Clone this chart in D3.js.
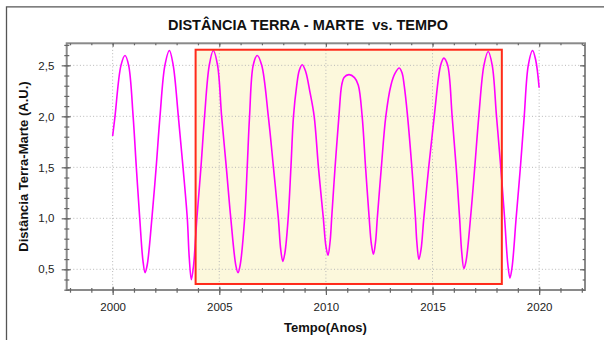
<!DOCTYPE html>
<html>
<head>
<meta charset="utf-8">
<script src="https://cdn.jsdelivr.net/npm/d3@7"></script>
<style>
  html, body { margin: 0; padding: 0; background: #fff; }
  svg { display: block; font-family: "Liberation Sans", Arial, sans-serif; }
</style>
</head>
<body>
<svg id="chart" width="604" height="340"></svg>
<script>
// Earth–Mars distance (astronomical units) sampled through 2000–2020
const years = [
  2000.00, 2000.11, 2000.39, 2000.58, 2000.75, 2000.96, 2001.11, 2001.27, 2001.42, 2001.52,
  2001.62, 2001.84, 2002.04, 2002.22, 2002.45, 2002.66, 2002.84, 2003.08, 2003.30, 2003.50,
  2003.59, 2003.69, 2003.79, 2003.95, 2004.14, 2004.31, 2004.53, 2004.72, 2004.92, 2005.11,
  2005.33, 2005.54, 2005.78, 2005.88, 2005.98, 2006.19, 2006.31, 2006.42, 2006.59, 2006.78,
  2006.99, 2007.30, 2007.54, 2007.77, 2007.88, 2007.98, 2008.08, 2008.23, 2008.36, 2008.48,
  2008.63, 2008.75, 2008.89, 2009.05, 2009.25, 2009.45, 2009.65, 2009.88, 2010.00, 2010.10,
  2010.20, 2010.27, 2010.43, 2010.61, 2010.74, 2010.85, 2011.08, 2011.34, 2011.52, 2011.70,
  2011.86, 2012.03, 2012.13, 2012.23, 2012.33, 2012.41, 2012.60, 2012.81, 2013.05, 2013.24,
  2013.44, 2013.58, 2013.67, 2013.83, 2014.03, 2014.20, 2014.26, 2014.36, 2014.46, 2014.59,
  2014.82, 2015.08, 2015.38, 2015.53, 2015.71, 2015.92, 2016.11, 2016.27, 2016.37, 2016.47,
  2016.57, 2016.78, 2016.98, 2017.17, 2017.41, 2017.61, 2017.80, 2018.00, 2018.20, 2018.38,
  2018.53, 2018.63, 2018.73, 2018.92, 2019.12, 2019.30, 2019.49, 2019.69, 2019.84, 2020.00
];
const distances = [
  1.807, 2.00, 2.50, 2.597, 2.50, 2.00, 1.50, 1.00, 0.586, 0.467,
  0.542, 1.00, 1.50, 2.00, 2.50, 2.646, 2.50, 2.00, 1.50, 1.00,
  0.62, 0.399, 0.53, 1.00, 1.50, 2.00, 2.50, 2.646, 2.50, 2.00,
  1.50, 1.00, 0.534, 0.467, 0.542, 1.00, 1.50, 2.00, 2.50, 2.597,
  2.50, 2.00, 1.50, 1.00, 0.697, 0.578, 0.664, 1.00, 1.50, 2.00,
  2.30, 2.45, 2.506, 2.44, 2.24, 2.00, 1.50, 1.00, 0.727, 0.637,
  0.78, 1.00, 1.50, 2.00, 2.305, 2.38, 2.409, 2.38, 2.305, 2.00,
  1.50, 1.00, 0.751, 0.647, 0.773, 1.00, 1.50, 2.00, 2.305, 2.42,
  2.474, 2.42, 2.305, 2.00, 1.50, 1.00, 0.78, 0.598, 0.692, 1.00,
  1.50, 2.00, 2.50, 2.571, 2.50, 2.00, 1.50, 1.00, 0.666, 0.507,
  0.578, 1.00, 1.50, 2.00, 2.50, 2.636, 2.50, 2.00, 1.50, 1.00,
  0.552, 0.415, 0.52, 1.00, 1.50, 2.00, 2.50, 2.646, 2.55, 2.28
];

// Axis ticks
const xMajorTicks = [2000, 2005, 2010, 2015, 2020];
const xMinorTicks = d3.range(1998, 2023);
const yMajorTicks = [0.5, 1.0, 1.5, 2.0, 2.5];
const yMinorTicks = d3.range(3, 28).map(v => v / 10);

// Highlighted interval (years) and its distance span
const bandYears = [2003.89, 2018.25];
const bandDistance = [0.356, 2.653];

const titleText = "DISTÂNCIA TERRA - MARTE  vs. TEMPO";
const xLabelText = "Tempo(Anos)";
const yLabelText = "Distância Terra-Marte (A.U.)";

const svg = d3.select("#chart");
const W = 604, H = 340;
const plot = { left: 66.7, right: 585, top: 43.3, bottom: 290 };

const x = d3.scaleLinear().domain([1997.845, 2022.15]).range([plot.left, plot.right]);
const y = d3.scaleLinear().domain([0.297, 2.716]).range([plot.bottom, plot.top]);

svg.append("rect").attr("width", W).attr("height", H).attr("fill", "#fff");

// panel border (left and top edges)
svg.append("path")
  .attr("d", `M6.5,${H} V6.8 H${W}`)
  .attr("fill", "none").attr("stroke", "#555").attr("stroke-width", 1.3);

// highlight band fill
svg.append("rect")
  .attr("x", x(bandYears[0])).attr("y", y(bandDistance[1]))
  .attr("width", x(bandYears[1]) - x(bandYears[0]))
  .attr("height", y(bandDistance[0]) - y(bandDistance[1]))
  .attr("fill", "#fcf8dc");

// dotted grid
const grid = svg.append("g").attr("stroke", "#b8b8b8").attr("stroke-width", 1)
  .attr("stroke-dasharray", "1,2.3");
grid.selectAll("line.gx").data(xMajorTicks).join("line")
  .attr("x1", d => x(d)).attr("x2", d => x(d))
  .attr("y1", plot.top).attr("y2", plot.bottom);
grid.selectAll("line.gy").data(yMajorTicks).join("line")
  .attr("x1", plot.left).attr("x2", plot.right)
  .attr("y1", d => y(d)).attr("y2", d => y(d));

// distance curve
const series = years.map((t, i) => [t, distances[i]]);
svg.append("path")
  .datum(series)
  .attr("fill", "none")
  .attr("stroke", "#ff00ff")
  .attr("stroke-width", 1.6)
  .attr("stroke-linejoin", "round")
  .attr("d", d3.line().x(d => x(d[0])).y(d => y(d[1])).curve(d3.curveCatmullRom.alpha(0.5)));

// highlight band outline
svg.append("rect")
  .attr("x", x(bandYears[0])).attr("y", y(bandDistance[1]))
  .attr("width", x(bandYears[1]) - x(bandYears[0]))
  .attr("height", y(bandDistance[0]) - y(bandDistance[1]))
  .attr("fill", "none").attr("stroke", "#ff2a1a").attr("stroke-width", 2);

// plot frame
svg.append("rect")
  .attr("x", plot.left).attr("y", plot.top)
  .attr("width", plot.right - plot.left).attr("height", plot.bottom - plot.top)
  .attr("fill", "none").attr("stroke", "#8a8a8a").attr("stroke-width", 2);

const fmtComma = d => d.toFixed(1).replace(".", ",");
const tickColor = "#666";

function styleAxis(g) {
  g.select(".domain").remove();
  g.selectAll("line").attr("stroke", tickColor).attr("stroke-width", 1.2);
  g.selectAll("text").attr("fill", "#222")
    .attr("font-family", "'Liberation Sans', Arial, sans-serif")
    .attr("font-size", 11.5);
}

// bottom axis
svg.append("g").attr("transform", `translate(0,${plot.bottom})`)
  .call(d3.axisBottom(x).tickValues(xMinorTicks).tickSize(2.7).tickFormat(""))
  .call(styleAxis)
  .call(g => g.selectAll("line").attr("y1", -2));
svg.append("g").attr("transform", `translate(0,${plot.bottom})`)
  .call(d3.axisBottom(x).tickValues(xMajorTicks).tickSize(5).tickFormat(d3.format("d")))
  .call(styleAxis)
  .call(g => g.selectAll("line").attr("y1", -3.3))
  .call(g => g.selectAll("text").attr("y", 12.8).attr("dy", "0.71em"));

// top axis (inward ticks)
svg.append("g").attr("transform", `translate(0,${plot.top})`)
  .call(d3.axisTop(x).tickValues(xMinorTicks).tickSize(-2).tickFormat(""))
  .call(styleAxis);
svg.append("g").attr("transform", `translate(0,${plot.top})`)
  .call(d3.axisTop(x).tickValues(xMajorTicks).tickSize(-3.5).tickFormat(""))
  .call(styleAxis);

// left axis
svg.append("g").attr("transform", `translate(${plot.left},0)`)
  .call(d3.axisLeft(y).tickValues(yMinorTicks).tickSize(2.4).tickFormat(""))
  .call(styleAxis)
  .call(g => g.selectAll("line").attr("x1", 2.6));
svg.append("g").attr("transform", `translate(${plot.left},0)`)
  .call(d3.axisLeft(y).tickValues(yMajorTicks).tickSize(5).tickFormat(fmtComma))
  .call(styleAxis)
  .call(g => g.selectAll("line").attr("x1", 4))
  .call(g => g.selectAll("text").attr("x", -12.4));

// right axis (inward ticks)
svg.append("g").attr("transform", `translate(${plot.right},0)`)
  .call(d3.axisRight(y).tickValues(yMinorTicks).tickSize(-2.3).tickFormat(""))
  .call(styleAxis);
svg.append("g").attr("transform", `translate(${plot.right},0)`)
  .call(d3.axisRight(y).tickValues(yMajorTicks).tickSize(-5).tickFormat(""))
  .call(styleAxis);

// titles
svg.append("text")
  .attr("x", 308).attr("y", 30)
  .attr("text-anchor", "middle")
  .attr("font-weight", "bold").attr("font-size", 14.5).attr("fill", "#111")
  .style("white-space", "pre")
  .text(titleText);

svg.append("text")
  .attr("x", 325.5).attr("y", 332)
  .attr("text-anchor", "middle")
  .attr("font-weight", "bold").attr("font-size", 13).attr("fill", "#111")
  .text(xLabelText);

svg.append("text")
  .attr("transform", "translate(28,166.5) rotate(-90)")
  .attr("text-anchor", "middle")
  .attr("font-weight", "bold").attr("font-size", 13).attr("fill", "#111")
  .text(yLabelText);
</script>
</body>
</html>
